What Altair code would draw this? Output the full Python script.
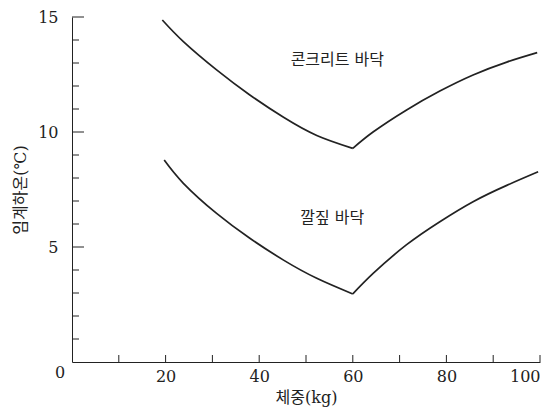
import altair as alt
import pandas as pd

# Data
conc_left_x = [19.3, 23.8, 30.9, 38.0, 45.2, 52.3, 60.0]
conc_left_y = [14.87, 13.93, 12.7, 11.61, 10.64, 9.85, 9.29]
conc_right_x = [60.0, 64.4, 71.5, 78.6, 85.7, 92.9, 99.4]
conc_right_y = [9.29, 10.01, 10.96, 11.78, 12.48, 13.04, 13.45]

straw_left_x = [19.7, 23.8, 30.9, 38.0, 45.2, 52.3, 60.0]
straw_left_y = [8.78, 7.77, 6.46, 5.38, 4.43, 3.64, 2.96]
straw_right_x = [60.0, 64.4, 71.5, 78.6, 85.7, 92.9, 99.6]
straw_right_y = [2.96, 3.86, 5.1, 6.1, 6.97, 7.68, 8.27]

label_text = ["콘크리트 바닥", "깔짚 바닥"]
label_x = [56.7, 55.6]
label_y = [13.13, 6.26]

x_tick_values = [10, 20, 30, 40, 50, 60, 70, 80, 90, 100]
x_label_values = [20, 40, 60, 80, 100]
y_minor_ticks = [1, 2, 3, 4, 6, 7, 8, 9, 11, 12, 13, 14]
y_major_ticks = [5, 10, 15]

rows = []
for seg, xs, ys in [("c_l", conc_left_x, conc_left_y), ("c_r", conc_right_x, conc_right_y),
                    ("s_l", straw_left_x, straw_left_y), ("s_r", straw_right_x, straw_right_y)]:
    for i, (a, b) in enumerate(zip(xs, ys)):
        rows.append({"seg": seg, "w": a, "t": b, "i": i})
df = pd.DataFrame(rows)

FONT = "DejaVu Serif, Liberation Serif, serif, Noto Sans CJK KR"
INK = "#222222"

xs = alt.Scale(domain=[0, 100], nice=False, zero=True)
ys = alt.Scale(domain=[0, 15], nice=False, zero=True)

W, H = 468, 345

lines = alt.Chart(df).mark_line(interpolate="natural", color=INK, strokeWidth=1.7).encode(
    x=alt.X("w:Q", scale=xs, axis=alt.Axis(values=x_label_values, title="체중(kg)", grid=False,
                                           ticks=False, domainColor=INK, labelFont=FONT,
                                           labelFontSize=16, labelColor=INK, labelPadding=6,
                                           titleFont=FONT, titleFontSize=16, titleColor=INK,
                                           titleFontWeight="normal", titlePadding=5)),
    y=alt.Y("t:Q", scale=ys, axis=alt.Axis(values=y_major_ticks, title="임계하온(℃)", grid=False,
                                           ticks=False, domainColor=INK, labelFont=FONT,
                                           labelFontSize=16, labelColor=INK, labelPadding=14,
                                           titleFont=FONT, titleFontSize=16, titleColor=INK,
                                           titleFontWeight="normal", titlePadding=9)),
    detail="seg:N",
    order="i:Q",
)

labels = alt.Chart(pd.DataFrame({"txt": label_text, "w": label_x, "t": label_y})).mark_text(
    font=FONT, fontSize=16, color=INK
).encode(x=alt.X("w:Q", scale=xs), y=alt.Y("t:Q", scale=ys), text="txt:N")

origin = alt.Chart(pd.DataFrame({"txt": ["0"], "w": [0], "t": [0]})).mark_text(
    font=FONT, fontSize=16, color=INK, dx=-12, dy=11
).encode(x=alt.X("w:Q", scale=xs), y=alt.Y("t:Q", scale=ys), text="txt:N")

xticks = alt.Chart(pd.DataFrame({"w": x_tick_values})).mark_rule(color=INK, strokeWidth=1).encode(
    x=alt.X("w:Q", scale=xs), y=alt.value(H), y2=alt.value(H - 7)
)
yminor = alt.Chart(pd.DataFrame({"t": y_minor_ticks})).mark_rule(color=INK, strokeWidth=1).encode(
    y=alt.Y("t:Q", scale=ys), x=alt.value(0), x2=alt.value(7)
)
ymajor = alt.Chart(pd.DataFrame({"t": y_major_ticks})).mark_rule(color=INK, strokeWidth=1).encode(
    y=alt.Y("t:Q", scale=ys), x=alt.value(0), x2=alt.value(12)
)

chart = alt.layer(lines, labels, origin, xticks, yminor, ymajor).properties(
    width=W, height=H,
    autosize=alt.AutoSizeParams(type="none"),
    padding={"left": 64, "top": 9, "right": 3, "bottom": 50},
    background="white",
).configure_view(stroke=None)

chart.save("out.html", embed_options={"renderer": "svg", "actions": False})
